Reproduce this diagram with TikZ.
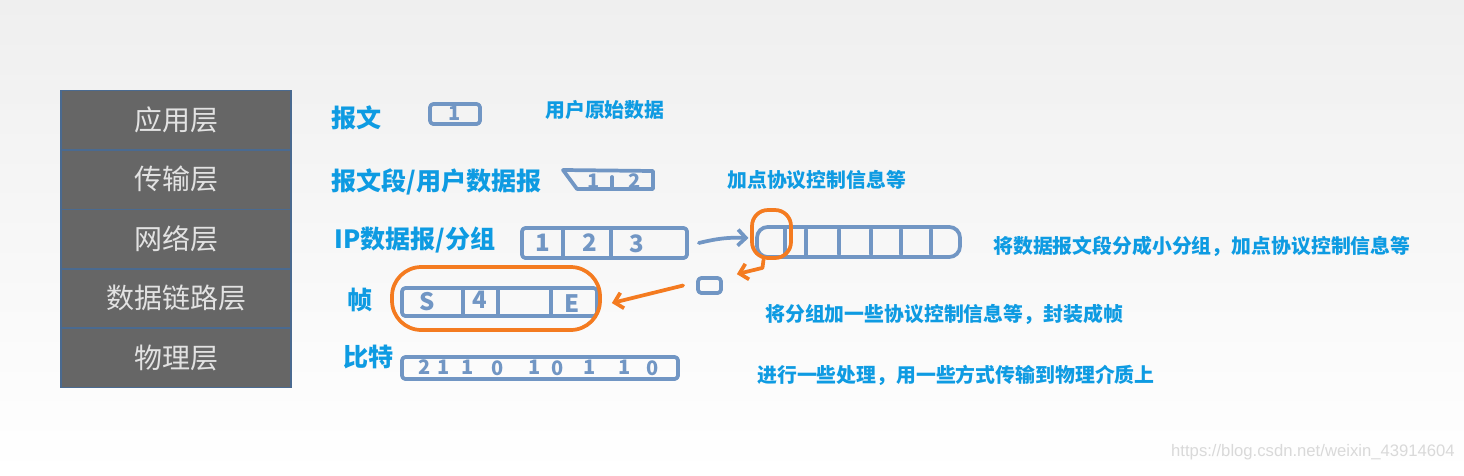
\documentclass[tikz,border=0pt]{standalone}
\usepackage{fontspec}
\usepackage{xcolor}
\usetikzlibrary{arrows.meta}
\setmainfont{Noto Sans CJK SC}
\newfontfamily\markfont{Liberation Sans}
\definecolor{layergray}{HTML}{666666}
\definecolor{layeredge}{HTML}{4A6A90}
\definecolor{layertext}{HTML}{E2E2E2}
\definecolor{labelblue}{HTML}{0E9BE2}
\definecolor{penblue}{HTML}{7196C4}
\definecolor{penorange}{HTML}{F47B20}
\definecolor{bgtop}{HTML}{EFEFEF}

\begin{document}
\begin{tikzpicture}[x = 0.75pt, y = -0.75pt,
    stackbox/.style = {fill = layergray, draw = layeredge, line width = 0.8pt, minimum width = 172.5pt, minimum height = 44.55pt, inner sep = 0pt, text = layertext, font = \fontsize{21}{24}\selectfont},
    unitlabel/.style = {text = labelblue, anchor = west, inner sep = 0pt, font = \bfseries\fontsize{18.8}{22}\selectfont},
    hint/.style = {text = labelblue, anchor = west, inner sep = 0pt, font = \bfseries\fontsize{14.9}{17}\selectfont},
    pen/.style = {draw = penblue, line width = 2.8pt, line cap = round, line join = round},
    penbox/.style = {pen, rectangle, rounded corners = 2.5pt, inner sep = 0pt},
    digit/.style = {text = penblue, inner sep = 0pt, font = \bfseries\fontsize{15}{17}\selectfont},
    orangepen/.style = {draw = penorange, line width = 2.8pt, line cap = round, line join = round},
    ring/.style = {orangepen, rectangle, inner sep = 0pt},
    > = {Straight Barb[length = 6pt, width = 12pt]}]

        \shade [top color = bgtop, bottom color = white] (0, 0) rectangle (1464, 475);
        \useasboundingbox (0, 0) rectangle (1464, 475);

        % Layer stack
        \node [stackbox] (app) at (176, 120) {应用层};
        \node [stackbox] (trans) at (176, 179.4) {传输层};
        \node [stackbox] (net) at (176, 238.8) {网络层};
        \node [stackbox] (link) at (176, 298.2) {数据链路层};
        \node [stackbox] (phys) at (176, 357.6) {物理层};
        \draw [layeredge, line width = 1.2pt] (app.south west) -- (app.south east);
        \draw [layeredge, line width = 1.2pt] (trans.south west) -- (trans.south east);
        \draw [layeredge, line width = 1.2pt] (net.south west) -- (net.south east);
        \draw [layeredge, line width = 1.2pt] (link.south west) -- (link.south east);

        % Unit names
        \node [unitlabel] (msg) at (331, 118) {报文};
        \node [unitlabel] (seg) at (331, 182) {报文段/用户数据报};
        \node [unitlabel] (pkt) at (334, 240) {IP数据报/分组};
        \node [unitlabel] (frm) at (347, 300) {帧};
        \node [unitlabel] (bit) at (343, 357) {比特};

        % Notes
        \node [hint] (msgnote) at (545, 110) {用户原始数据};
        \node [hint] (segnote) at (727, 180) {加点协议控制信息等};
        \node [hint] (pktnote) at (993, 246) {将数据报文段分成小分组，加点协议控制信息等};
        \node [hint] (frmnote) at (765, 314) {将分组加一些协议控制信息等，封装成帧};
        \node [hint] (bitnote) at (757, 375) {进行一些处理，用一些方式传输到物理介质上};

        % Message
        \node [penbox, minimum width = 37.5pt, minimum height = 15pt] (msgbox) at (455, 114) {};
        \node [digit] (msgone) at (455, 113) {1};

        % Segment
        \draw [pen] (563, 170) -- (653, 171) -- (653, 189) -- (577, 189) -- cycle;
        \draw [pen] (612, 177) -- (612, 188);
        \node [digit] (segone) at (594, 181) {1};
        \node [digit] (segtwo) at (635, 181) {2};

        % Packet
        \node [penbox, minimum width = 123.75pt, minimum height = 22.5pt] (ipbox) at (604.5, 243) {};
        \draw [pen] (ipbox.west) ++(43, -15) -- ++(0, 30);
        \draw [pen] (ipbox.west) ++(91, -15) -- ++(0, 30);
        \node [digit, font = \bfseries\fontsize{18}{20}\selectfont] (ipone) at (543, 243) {1};
        \node [digit, font = \bfseries\fontsize{18}{20}\selectfont] (iptwo) at (590, 243) {2};
        \node [digit, font = \bfseries\fontsize{18}{20}\selectfont] (ipthree) at (637, 244) {3};

        % Fragments
        \node [penbox, rounded corners = 8pt, minimum width = 152.25pt, minimum height = 22.5pt] (fragbox) at (858.5, 242) {};
        \draw [pen] (fragbox.west) ++(30, -15) -- ++(0, 28);
        \draw [pen] (fragbox.west) ++(51, -12) -- ++(0, 26);
        \draw [pen] (fragbox.west) ++(84, -12) -- ++(0, 24);
        \draw [pen] (fragbox.west) ++(116, -12) -- ++(0, 24);
        \draw [pen] (fragbox.west) ++(146, -12) -- ++(0, 24);
        \draw [pen] (fragbox.west) ++(176, -12) -- ++(0, 24);
        \node [ring, rounded corners = 12pt, minimum width = 29.25pt, minimum height = 36pt] (hdrring) at (771.5, 234) {};
        \node [penbox, minimum width = 17.25pt, minimum height = 11.25pt] (hdrbox) at (709.5, 285.5) {};

        % Frame
        \node [penbox, minimum width = 146.25pt, minimum height = 21pt] (framebox) at (499.5, 302) {};
        \draw [pen] (framebox.west) ++(63, -14) -- ++(0, 28);
        \draw [pen] (framebox.west) ++(98, -14) -- ++(0, 28);
        \draw [pen] (framebox.west) ++(151, -14) -- ++(0, 28);
        \node [digit, font = \bfseries\fontsize{18}{20}\selectfont] (fstart) at (427, 302) {S};
        \node [digit, font = \bfseries\fontsize{18}{20}\selectfont] (ffour) at (480, 300) {4};
        \node [digit, font = \bfseries\fontsize{18}{20}\selectfont] (fend) at (572, 304) {E};
        \node [ring, rounded corners = 22pt, minimum width = 156pt, minimum height = 47.25pt] (framering) at (496, 298.5) {};

        % Bits
        \node [penbox, minimum width = 207pt, minimum height = 16.5pt] (bitbox) at (540, 368) {};
        \node [digit] (b1) at (425, 367) {2};
        \node [digit] (b2) at (444, 367) {1};
        \node [digit] (b3) at (468, 367) {1};
        \node [digit] (b4) at (498, 368) {0};
        \node [digit] (b5) at (535, 367) {1};
        \node [digit] (b6) at (558, 368) {0};
        \node [digit] (b7) at (590, 367) {1};
        \node [digit] (b8) at (625, 367) {1};
        \node [digit] (b9) at (653, 368) {0};

        % Arrows
        \draw [pen, ->] ([xshift = 7.5pt]ipbox.east) to [bend left = 8] ([xshift = -5pt, yshift = 3pt]fragbox.west);
        \draw [orangepen, ->] ([xshift = -6pt]hdrring.south) -- ++(-1, 8) -- ([xshift = 10.5pt, yshift = 1.5pt]hdrbox.north east);
        \draw [orangepen, ->] ([xshift = -9.75pt]hdrbox.west) -- ([xshift = 7.5pt, yshift = -3.4pt]framering.east);

        \node [anchor = base east, text = black!15, font = \markfont\fontsize{12.5}{15}\selectfont, inner sep = 0pt] (mark) at (1455, 456) {https://blog.csdn.net/weixin\_43914604};

\end{tikzpicture}
\end{document}
